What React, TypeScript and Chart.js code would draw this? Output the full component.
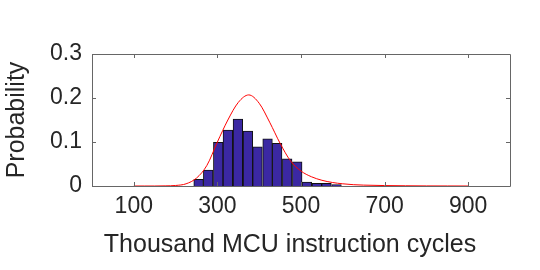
import React, { useEffect, useRef } from "react";
import { Chart, registerables } from "chart.js";

Chart.register(...registerables);

// Histogram bins (centers, thousand cycles) and probabilities
const binCenters = [255, 278, 302, 325, 349, 373, 396, 420, 443, 467, 491, 514, 538, 561, 585];
const binProbs = [0.015, 0.036, 0.099, 0.127, 0.152, 0.125, 0.089, 0.107, 0.097, 0.062, 0.055, 0.009, 0.006, 0.006, 0.003];

// Fitted curve points
const curveX = [100, 125, 150, 175, 200, 225, 250, 275, 300, 325, 350, 375, 400, 425, 450, 475, 500, 525, 550, 575, 600, 625, 650, 700, 750, 800, 850, 900];
const curveY = [0, 0, 0, 0.0003, 0.0012, 0.005, 0.018, 0.047, 0.1, 0.15, 0.19, 0.207, 0.188, 0.145, 0.097, 0.057, 0.034, 0.021, 0.013, 0.008, 0.005, 0.003, 0.002, 0.001, 0.0005, 0.0002, 0.0001, 0];

const xTicks = [100, 300, 500, 700, 900];
const yTicks = [0, 0.1, 0.2, 0.3];
const xTitle = "Thousand MCU instruction cycles";
const yTitle = "Probability";

const TEXT = "#262626";
const BOX = "#666666";
const FONT = "'Liberation Sans', Arial, sans-serif";

const boxPlugin = {
  id: "boxTicks",
  afterDatasetsDraw(chart: any) {
    const { ctx, chartArea, scales } = chart;
    const { left, right, top, bottom } = chartArea;
    ctx.save();
    ctx.strokeStyle = BOX;
    ctx.lineWidth = 1;
    ctx.beginPath();
    ctx.rect(Math.round(left) + 0.5, Math.round(top) + 0.5, Math.round(right - left), Math.round(bottom - top));
    ctx.stroke();
    const tl = 4;
    ctx.beginPath();
    for (const v of xTicks) {
      const x = Math.round(scales.x.getPixelForValue(v)) + 0.5;
      ctx.moveTo(x, bottom);
      ctx.lineTo(x, bottom - tl);
      ctx.moveTo(x, top);
      ctx.lineTo(x, top + tl);
    }
    for (const v of yTicks) {
      const y = Math.round(scales.y.getPixelForValue(v)) + 0.5;
      ctx.moveTo(left, y);
      ctx.lineTo(left + tl, y);
      ctx.moveTo(right, y);
      ctx.lineTo(right - tl, y);
    }
    ctx.stroke();
    // x axis title
    ctx.fillStyle = TEXT;
    ctx.font = `25px ${FONT}`;
    ctx.textAlign = "center";
    ctx.textBaseline = "alphabetic";
    ctx.fillText(xTitle, 290, 252);
    ctx.restore();
  },
};

export default function App() {
  const ref = useRef<HTMLCanvasElement | null>(null);
  useEffect(() => {
    if (!ref.current) return;
    const chart = new Chart(ref.current, {
      type: "bar",
      data: {
        datasets: [
          {
            type: "line",
            data: curveX.map((x, i) => ({ x, y: curveY[i] })),
            borderColor: "#ff0000",
            borderWidth: 1,
            pointRadius: 0,
            cubicInterpolationMode: "monotone",
            order: 0,
          } as any,
          {
            type: "bar",
            data: binCenters.map((x, i) => ({ x, y: binProbs[i] })),
            backgroundColor: "#3b28a3",
            borderColor: "#111111",
            borderWidth: 1,
            barPercentage: 1,
            categoryPercentage: 1,
            order: 1,
          } as any,
        ],
      },
      options: {
        responsive: false,
        animation: false,
        events: [],
        layout: { padding: { left: 2, top: 54, right: 30, bottom: 0 } },
        plugins: { legend: { display: false }, tooltip: { enabled: false } },
        scales: {
          x: {
            type: "linear",
            min: 0,
            max: 1000,
            offset: false,
            grid: { display: false, drawTicks: false },
            border: { display: false },
            afterBuildTicks: (s: any) => {
              s.ticks = xTicks.map((v) => ({ value: v }));
            },
            afterFit: (s: any) => {
              s.height = 84;
            },
            ticks: {
              color: TEXT,
              font: { family: FONT, size: 23 },
              padding: 7,
              maxRotation: 0,
              autoSkip: false,
              callback: (v: any) => String(v),
            },
          },
          y: {
            type: "linear",
            min: 0,
            max: 0.3,
            grid: { display: false, drawTicks: false },
            border: { display: false },
            afterBuildTicks: (s: any) => {
              s.ticks = yTicks.map((v) => ({ value: v }));
            },
            afterFit: (s: any) => {
              s.width = 90;
            },
            ticks: {
              color: TEXT,
              font: { family: FONT, size: 23 },
              padding: 10,
              callback: (v: any) => String(Math.round(Number(v) * 10) / 10),
            },
            title: {
              display: true,
              text: yTitle,
              color: TEXT,
              font: { family: FONT, size: 25 },
              padding: 0,
            },
          },
        },
      },
      plugins: [boxPlugin],
    });
    return () => chart.destroy();
  }, []);
  return (
    <div style={{ position: "absolute", left: 0, top: 0, width: 540, height: 270, background: "#fff" }}>
      <canvas ref={ref} width={540} height={270} style={{ display: "block", width: 540, height: 270 }} />
    </div>
  );
}
